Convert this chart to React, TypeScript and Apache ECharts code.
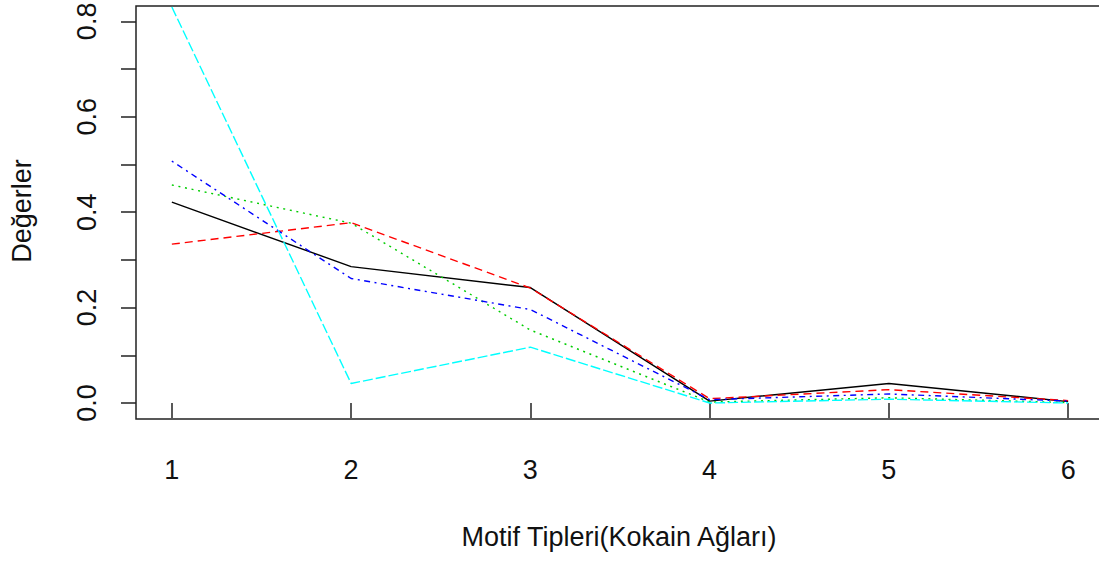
import React, { useEffect, useRef } from "react";
import * as echarts from "echarts";

const motifTypes = [1, 2, 3, 4, 5, 6];
const seriesBlack = [0.421, 0.286, 0.242, 0.004, 0.041, 0.003];
const seriesRed = [0.333, 0.378, 0.241, 0.009, 0.028, 0.005];
const seriesGreen = [0.457, 0.377, 0.153, 0.002, 0.011, 0.001];
const seriesBlue = [0.507, 0.261, 0.196, 0.007, 0.019, 0.004];
const seriesCyan = [0.83, 0.041, 0.117, 0.0, 0.008, 0.0];

const yTickValues = [0, 0.1, 0.2, 0.3, 0.4, 0.5, 0.6, 0.7, 0.8];
const yLabelValues = [0, 0.2, 0.4, 0.6, 0.8];

const xTitle = "Motif Tipleri(Kokain Ağları)";
const yTitle = "Değerler";

const FONT = "'Liberation Sans', Arial, sans-serif";

function pairs(vals: number[]) {
  return motifTypes.map((x, i) => [x, vals[i]]);
}

export default function App() {
  const ref = useRef<HTMLDivElement>(null);
  useEffect(() => {
    document.documentElement.style.overflow = "hidden";
    document.body.style.overflow = "hidden";
    document.body.style.margin = "0";
    const chart = echarts.init(ref.current!, null, { renderer: "svg" });
    const mk = (name: string, vals: number[], color: string, dash: any) => ({
      name,
      type: "line",
      data: pairs(vals),
      symbol: "none",
      lineStyle: { color, width: 1.4, type: dash },
      z: 3,
    });
    chart.setOption({
      animation: false,
      backgroundColor: "#ffffff",
      grid: {
        left: 136,
        top: 6,
        width: 968,
        height: 413,
        show: true,
        borderColor: "#222",
        borderWidth: 1.5,
        backgroundColor: "transparent",
        containLabel: false,
        outerBoundsMode: "none",
      },
      xAxis: {
        type: "value",
        min: 0.8,
        max: 6.2,
        splitLine: { show: false },
        axisLine: { show: false },
        axisTick: {
          show: true,
          length: 15,
          lineStyle: { color: "#222", width: 1.5 },
          customValues: motifTypes,
        },
        axisLabel: {
          customValues: motifTypes,
          margin: 37,
          fontSize: 27,
          fontFamily: FONT,
          color: "#111",
          formatter: (v: number) => String(v),
        },
      },
      yAxis: {
        type: "value",
        min: -0.0335,
        max: 0.8322,
        splitLine: { show: false },
        axisLine: { show: false },
        axisTick: {
          show: true,
          length: 15,
          lineStyle: { color: "#222", width: 1.5 },
          customValues: yTickValues,
        },
        axisLabel: {
          customValues: yLabelValues,
          rotate: 90,
          margin: 36,
          fontSize: 27,
          fontFamily: FONT,
          color: "#111",
          formatter: (v: number) => v.toFixed(1),
        },
      },
      graphic: [
        {
          type: "text",
          x: 619,
          y: 537,
          style: {
            text: xTitle,
            fontSize: 27,
            fontFamily: FONT,
            fill: "#111",
            align: "center",
            verticalAlign: "middle",
          },
        },
        {
          type: "text",
          x: 22,
          y: 211,
          rotation: Math.PI / 2,
          style: {
            text: yTitle,
            fontSize: 27,
            fontFamily: FONT,
            fill: "#111",
            align: "center",
            verticalAlign: "middle",
          },
        },
      ],
      series: [
        mk("s1", seriesBlack, "#000000", "solid"),
        mk("s2", seriesRed, "#ff0000", [8, 5]),
        mk("s3", seriesGreen, "#00cd00", [2, 4.7]),
        mk("s4", seriesBlue, "#0000ff", [2, 4.5, 6, 4.5]),
        mk("s5", seriesCyan, "#00ffff", [10, 3]),
      ],
    });
    return () => chart.dispose();
  }, []);
  return (
    <div
      ref={ref}
      style={{ position: "fixed", left: 0, top: 0, width: 1110, height: 561 }}
    />
  );
}
